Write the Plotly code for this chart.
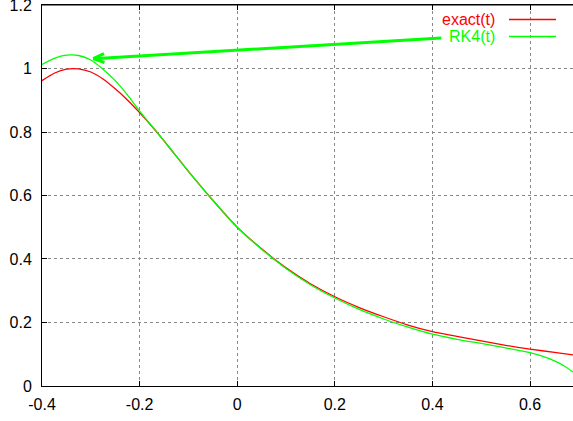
import math
import plotly.graph_objects as go

# ---- data ----
t_exact = [-0.40, -0.375, -0.35, -0.325, -0.30, -0.275, -0.25, -0.225, -0.20, -0.175, -0.15,
           -0.125, -0.10, -0.05, 0.00, 0.05, 0.10, 0.15, 0.20, 0.25, 0.30, 0.35, 0.40, 0.45,
           0.50, 0.55, 0.60, 0.65, 0.688]
exact = [0.962, 0.985, 0.998, 0.999, 0.989, 0.967, 0.936, 0.901, 0.861, 0.818, 0.772,
         0.724, 0.676, 0.585, 0.500, 0.432, 0.372, 0.322, 0.281, 0.247, 0.218, 0.192, 0.171,
         0.156, 0.142, 0.128, 0.116, 0.106, 0.098]

t_rk4 = [-0.40, -0.375, -0.35, -0.325, -0.30, -0.275, -0.25, -0.225, -0.20, -0.175, -0.15,
         -0.125, -0.10, -0.05, 0.00, 0.05, 0.10, 0.15, 0.20, 0.25, 0.30, 0.35, 0.40, 0.45,
         0.50, 0.55, 0.60, 0.625, 0.65, 0.67, 0.688]
rk4 = [1.013, 1.032, 1.042, 1.041, 1.027, 0.998, 0.962, 0.917, 0.866, 0.819, 0.772,
       0.724, 0.676, 0.585, 0.500, 0.431, 0.370, 0.319, 0.277, 0.241, 0.211, 0.185, 0.163,
       0.147, 0.134, 0.120, 0.105, 0.094, 0.079, 0.063, 0.044]

x_ticks = [-0.4, -0.2, 0.0, 0.2, 0.4, 0.6]
x_tick_labels = ["-0.4", "-0.2", "0", "0.2", "0.4", "0.6"]
y_ticks = [0, 0.2, 0.4, 0.6, 0.8, 1.0, 1.2]
y_tick_labels = ["0", "0.2", "0.4", "0.6", "0.8", "1", "1.2"]

series_names = ["exact(t)", "RK4(t)"]
series_colors = ["#ff0000", "#00ff00"]

arrow_tail = (0.418, 1.096)
arrow_tip = (-0.295, 1.031)

# ---- layout constants ----
W, H = 573, 421
ML, MR, MT, MB = 42, 0, 5, 35
X_RANGE = [-0.4, 0.688]
Y_RANGE = [-0.0001, 1.2001]
FONT = "Liberation Sans, Arial, sans-serif"
FS = 16

fig = go.Figure()
for tt, vv, name, col in [(t_exact, exact, series_names[0], series_colors[0]),
                          (t_rk4, rk4, series_names[1], series_colors[1])]:
    fig.add_trace(go.Scatter(x=tt, y=vv, mode="lines", name=name,
                             line=dict(color=col, width=1.3, shape="spline", smoothing=0.6),
                             showlegend=False, hoverinfo="skip"))

# pixel scale for arrowhead geometry
pw = W - ML - MR
ph = H - MT - MB
px_x = pw / (X_RANGE[1] - X_RANGE[0])
px_y = ph / (Y_RANGE[1] - Y_RANGE[0])

shapes = []
green = series_colors[1]
shapes.append(dict(type="line", xref="x", yref="y", x0=arrow_tail[0], y0=arrow_tail[1],
                   x1=arrow_tip[0], y1=arrow_tip[1], line=dict(color=green, width=3)))
# open V arrowhead
dxp = (arrow_tail[0] - arrow_tip[0]) * px_x
dyp = -(arrow_tail[1] - arrow_tip[1]) * px_y
L = math.hypot(dxp, dyp)
ux, uy = dxp / L, dyp / L
head_len, half_w = 11, 4.5
for s in (1, -1):
    hx = ux * head_len - uy * half_w * s
    hy = uy * head_len + ux * half_w * s
    shapes.append(dict(type="line", xref="x", yref="y", x0=arrow_tip[0], y0=arrow_tip[1],
                       x1=arrow_tip[0] + hx / px_x, y1=arrow_tip[1] - hy / px_y,
                       line=dict(color=green, width=3)))

# top border (gnuplot draws it)
shapes.append(dict(type="line", xref="paper", yref="paper", x0=0, x1=1, y0=1, y1=1,
                   line=dict(color="black", width=1)))

# key (gnuplot style: text then line sample)
annotations = []
key_text_x = (497 - ML) / pw
key_line_x0 = (509 - ML) / pw
key_line_x1 = (556 - ML) / pw
key_rows_y = [(H - MB - 19.5) / ph, (H - MB - 36.5) / ph]
for name, col, ky in zip(series_names, series_colors, key_rows_y):
    annotations.append(dict(xref="paper", yref="paper", x=key_text_x, y=ky, text=name,
                            showarrow=False, xanchor="right", yanchor="middle",
                            font=dict(family=FONT, size=FS, color=col)))
    shapes.append(dict(type="line", xref="paper", yref="paper", x0=key_line_x0, x1=key_line_x1,
                       y0=ky, y1=ky, line=dict(color=col, width=1.3)))

fig.update_layout(
    width=W, height=H,
    margin=dict(l=ML, r=MR, t=MT, b=MB, pad=0),
    paper_bgcolor="white", plot_bgcolor="white",
    font=dict(family=FONT, size=FS, color="black"),
    shapes=shapes, annotations=annotations,
    showlegend=False,
    xaxis=dict(range=X_RANGE, tickvals=x_ticks, ticktext=x_tick_labels,
               showgrid=True, gridcolor="#888888", griddash="dot", gridwidth=1,
               zeroline=False, showline=True, linecolor="black", linewidth=1,
               mirror="ticks", ticks="inside", ticklen=5, tickcolor="black",
               automargin=False, ticklabelstandoff=4),
    yaxis=dict(range=Y_RANGE, tickvals=y_ticks, ticktext=y_tick_labels,
               showgrid=True, gridcolor="#888888", griddash="dot", gridwidth=1,
               zeroline=False, showline=True, linecolor="black", linewidth=1,
               mirror=False, ticks="inside", ticklen=5, tickcolor="black",
               automargin=False, ticklabelstandoff=6, ticklabeloverflow="allow"),
)

fig.write_html("out.html")
